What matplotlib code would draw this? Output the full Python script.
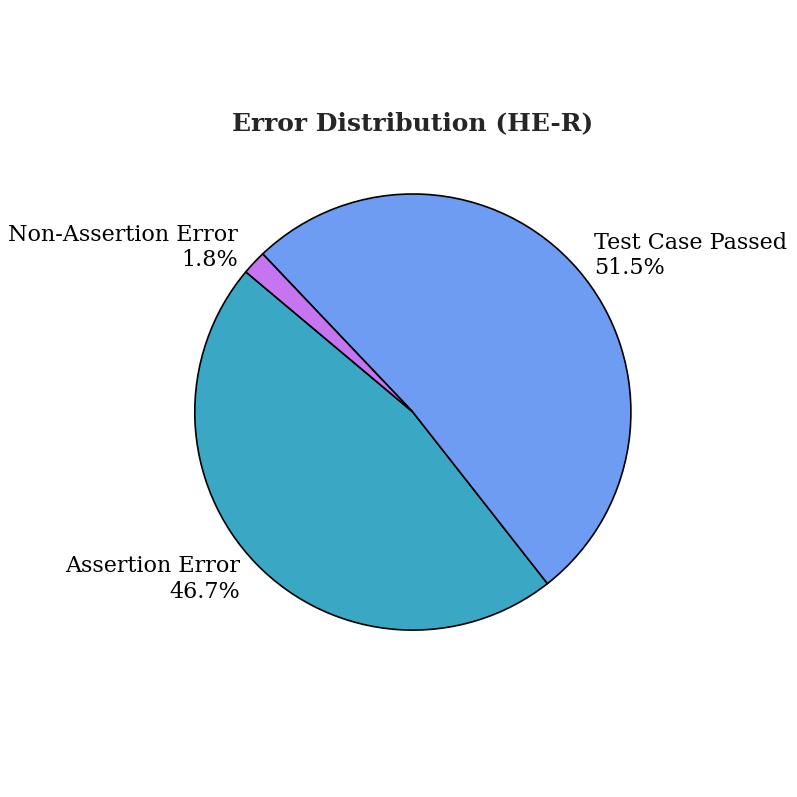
import matplotlib
matplotlib.use('Agg')
import matplotlib.pyplot as plt

# Error distribution for HE-R
categories = ['Assertion Error', 'Test Case Passed', 'Non-Assertion Error']
shares = [46.7, 51.5, 1.8]
colors = ['#3aa8c5', '#6e9cf3', '#c674f0']

plt.rcParams['font.family'] = 'DejaVu Serif'

fig = plt.figure(figsize=(7.97, 7.97), dpi=100)
ax = fig.add_axes([0.176, 0.141, 0.684, 0.684])

labels = [f'{c}\n{s:.1f}%' for c, s in zip(categories, shares)]
ax.pie(shares, labels=labels, colors=colors, startangle=140,
       counterclock=True, labeldistance=1.1,
       wedgeprops={'edgecolor': 'black', 'linewidth': 1.2},
       textprops={'fontsize': 16})
ax.set_aspect('equal')
ax.set_title('Error Distribution (HE-R)', fontsize=18, fontweight='bold',
             color='#262626', pad=7)

fig.savefig('out.png', dpi=100)
